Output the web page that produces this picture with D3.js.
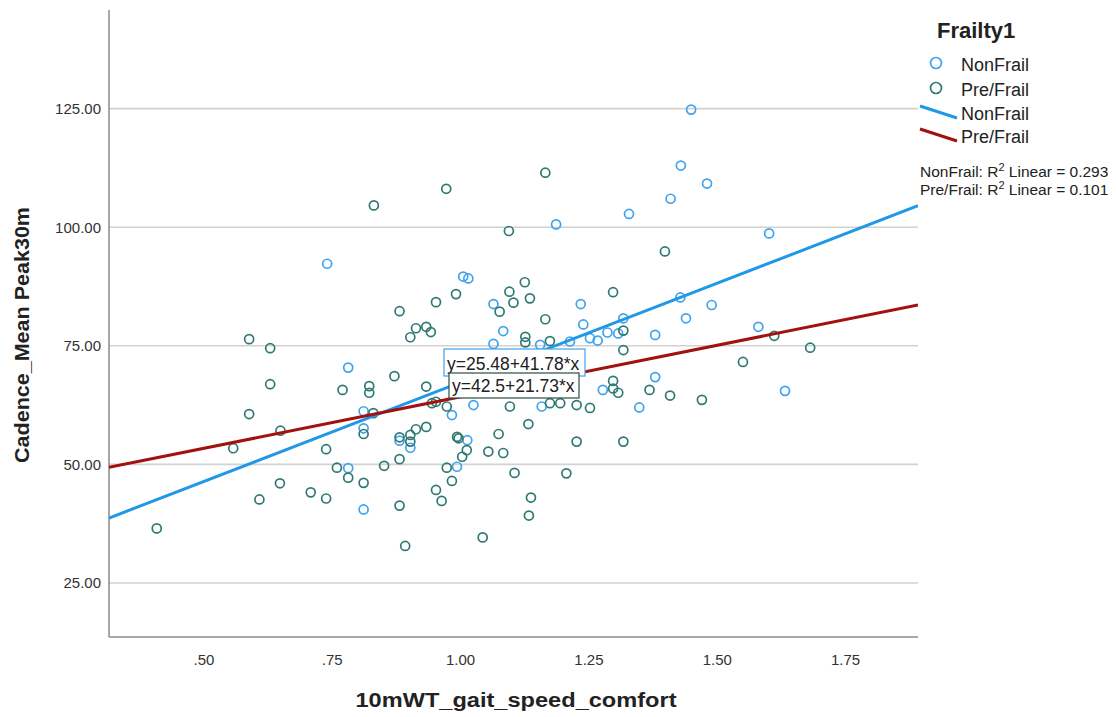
<!DOCTYPE html>
<html>
<head>
<meta charset="utf-8">
<script src="https://cdn.jsdelivr.net/npm/d3@7"></script>
<style>
  body { margin: 0; background: #fff; }
  svg text { font-family: Arial, "Liberation Sans", sans-serif; }
</style>
</head>
<body>
<svg id="chart" width="1116" height="717"></svg>
<script>
// Group names and fitted linear models
const groups = ["NonFrail", "Pre/Frail"];
const fitIntercept = [25.48, 42.5];
const fitSlope = [41.78, 21.73];
const fitR2 = ["0.293", "0.101"];

// NonFrail observations: gait speed (m/s) and peak cadence
const nonFrailSpeed = [1.45, 1.43, 1.481, 1.41, 1.329, 1.187, 1.602, 0.741, 1.006, 1.016,
  1.065, 1.235, 1.24, 1.084, 1.156, 1.065, 1.214, 1.429, 1.49, 1.44,
  1.318, 1.287, 1.308, 1.268, 1.253, 1.38, 1.581, 1.38, 1.278, 1.633,
  1.349, 0.782, 0.812, 0.812, 0.782, 0.812, 0.882, 0.903, 0.994, 1.014,
  0.984, 1.026, 1.159];
const nonFrailCadence = [124.8, 113.0, 109.2, 106.0, 102.8, 100.6, 98.7, 92.3, 89.6, 89.2,
  83.8, 83.8, 79.5, 78.1, 75.2, 75.4, 75.9, 85.2, 83.6, 80.8,
  80.8, 77.8, 77.6, 76.1, 76.6, 77.3, 79.0, 68.4, 65.7, 65.5,
  62.0, 70.4, 61.2, 57.6, 49.2, 40.5, 55.0, 53.5, 49.5, 55.1,
  60.4, 62.5, 62.2];

// Pre/Frail observations: gait speed (m/s) and peak cadence
const preFrailSpeed = [1.166, 0.973, 0.832, 1.095, 1.399, 1.126, 0.992, 0.953, 0.882, 0.914,
  0.934, 0.943, 0.903, 1.096, 1.136, 1.104, 1.077, 1.166, 1.127, 1.127,
  1.175, 1.298, 1.318, 1.612, 1.682, 1.318, 1.551, 1.298, 1.298, 1.308,
  1.369, 1.409, 1.471, 1.253, 0.589, 0.63, 0.63, 0.589, 0.558, 0.65,
  0.739, 0.649, 0.609, 0.709, 0.739, 0.409, 0.771, 0.823, 0.823, 0.872,
  0.934, 0.831, 0.945, 0.953, 0.974, 0.812, 0.76, 0.782, 0.812, 0.852,
  0.882, 0.882, 0.893, 0.882, 0.903, 0.903, 0.914, 0.934, 0.953, 0.964,
  0.984, 0.974, 1.004, 1.013, 0.994, 0.997, 1.055, 1.075, 1.084, 1.106,
  1.044, 1.133, 1.138, 1.134, 1.227, 1.318, 1.207, 1.097, 1.175, 1.195,
  1.227];
const preFrailCadence = [111.5, 108.1, 104.6, 99.2, 94.9, 88.4, 85.9, 84.2, 82.3, 78.7,
  79.0, 77.9, 76.8, 86.4, 85.0, 84.1, 82.2, 80.6, 76.9, 75.7,
  76.0, 86.3, 78.2, 77.1, 74.6, 74.1, 71.6, 67.6, 66.0, 65.1,
  65.7, 64.5, 63.6, 61.9, 76.4, 74.5, 66.9, 60.6, 53.4, 57.1,
  53.2, 46.0, 42.6, 44.1, 42.8, 36.5, 65.7, 66.5, 65.1, 68.6,
  66.4, 60.8, 62.9, 63.2, 62.2, 56.4, 49.3, 47.2, 46.1, 49.7,
  51.1, 41.3, 32.8, 55.7, 56.2, 54.8, 57.4, 57.9, 44.6, 42.3,
  46.5, 49.3, 51.6, 53.0, 55.8, 55.5, 52.7, 56.4, 52.4, 48.2,
  34.6, 58.5, 43.0, 39.2, 54.8, 54.8, 48.1, 62.2, 62.9, 62.9,
  62.5];

// Axis ticks
const xTicks = [0.5, 0.75, 1.0, 1.25, 1.5, 1.75];
const yTicks = [25, 50, 75, 100, 125];

const pointColor = ["#3fa3ee", "#2e7a72"];
const lineColor = ["#1f98e8", "#a31010"];
const boxStroke = ["#3fa3ee", "#2b4d49"];

const svg = d3.select("#chart");
const plot = { left: 109, right: 918, top: 10, bottom: 637 };

const x = d3.scaleLinear().domain([0.316, 1.892]).range([plot.left, plot.right]);
const y = d3.scaleLinear().domain([13.6, 145.8]).range([plot.bottom, plot.top]);

svg.append("defs").append("clipPath").attr("id", "plotClip")
  .append("rect")
  .attr("x", plot.left).attr("y", plot.top)
  .attr("width", plot.right - plot.left).attr("height", plot.bottom - plot.top);

// Horizontal gridlines
svg.append("g").selectAll("line").data(yTicks).join("line")
  .attr("x1", plot.left).attr("x2", plot.right)
  .attr("y1", d => y(d)).attr("y2", d => y(d))
  .attr("stroke", "#d2d2d2").attr("stroke-width", 1.6);

// Y axis (labels only, drawn with d3.axisLeft)
const yAxis = svg.append("g").attr("transform", `translate(${plot.left},0)`)
  .call(d3.axisLeft(y).tickValues(yTicks).tickFormat(d3.format(".2f")).tickSize(0).tickPadding(8));
yAxis.select(".domain").remove();
yAxis.selectAll("text").attr("font-size", 15).attr("fill", "#333")
  .style("font-family", "Arial, 'Liberation Sans', sans-serif");

// X axis labels without leading zero
const fmtX = v => d3.format(".2f")(v).replace(/^0\./, ".");
const xAxis = svg.append("g").attr("transform", `translate(0,${plot.bottom})`)
  .call(d3.axisBottom(x).tickValues(xTicks).tickFormat(fmtX).tickSize(0).tickPadding(17));
xAxis.select(".domain").remove();
xAxis.selectAll("text").attr("font-size", 15).attr("fill", "#333")
  .style("font-family", "Arial, 'Liberation Sans', sans-serif");

// Axis lines
svg.append("line").attr("x1", plot.left).attr("x2", plot.left)
  .attr("y1", plot.top).attr("y2", plot.bottom)
  .attr("stroke", "#8a8a8a").attr("stroke-width", 1.5);
svg.append("line").attr("x1", plot.left).attr("x2", plot.right)
  .attr("y1", plot.bottom).attr("y2", plot.bottom)
  .attr("stroke", "#8a8a8a").attr("stroke-width", 1.5);

// Axis titles
svg.append("text")
  .attr("transform", `translate(29,${(207 + 463) / 2}) rotate(-90)`)
  .attr("text-anchor", "middle")
  .attr("font-size", 20).attr("font-weight", "bold").attr("fill", "#222")
  .attr("textLength", 256).attr("lengthAdjust", "spacingAndGlyphs")
  .text("Cadence_Mean Peak30m");
svg.append("text")
  .attr("x", 516).attr("y", 707)
  .attr("text-anchor", "middle")
  .attr("font-size", 20).attr("font-weight", "bold").attr("fill", "#222")
  .attr("textLength", 321).attr("lengthAdjust", "spacingAndGlyphs")
  .text("10mWT_gait_speed_comfort");

// Scatter points
const seriesX = [nonFrailSpeed, preFrailSpeed];
const seriesY = [nonFrailCadence, preFrailCadence];
const pts = svg.append("g");
groups.forEach((g, i) => {
  const data = seriesX[i].map((v, k) => ({ sx: v, sy: seriesY[i][k] }));
  pts.append("g").selectAll("circle").data(data).join("circle")
    .attr("cx", d => x(d.sx)).attr("cy", d => y(d.sy)).attr("r", 4.5)
    .attr("fill", "none").attr("stroke", pointColor[i]).attr("stroke-width", 1.7);
});

// Fit lines across the full x range
const lines = svg.append("g").attr("clip-path", "url(#plotClip)");
const [x0, x1] = x.domain();
groups.forEach((g, i) => {
  lines.append("line")
    .attr("x1", x(x0)).attr("y1", y(fitIntercept[i] + fitSlope[i] * x0))
    .attr("x2", x(x1)).attr("y2", y(fitIntercept[i] + fitSlope[i] * x1))
    .attr("stroke", lineColor[i]).attr("stroke-width", 3);
});

// Equation labels
const eqText = groups.map((g, i) => `y=${fitIntercept[i]}+${fitSlope[i]}*x`);
const eqBoxes = [
  { left: 444, top: 349, w: 141, h: 27 },
  { left: 449, top: 373, w: 130, h: 25 }
];
eqBoxes.forEach((b, i) => {
  const grp = svg.append("g");
  grp.append("rect").attr("x", b.left).attr("y", b.top).attr("width", b.w).attr("height", b.h)
    .attr("fill", "#fff").attr("stroke", boxStroke[i]).attr("stroke-width", 1.2);
  grp.append("text").attr("x", b.left + 3).attr("y", b.top + b.h - 6)
    .attr("font-size", 17.5).attr("fill", "#222").text(eqText[i]);
});

// Legend
const lg = svg.append("g");
lg.append("text").attr("x", 937).attr("y", 38).attr("font-size", 22).attr("font-weight", "bold")
  .attr("fill", "#222").text("Frailty1");
groups.forEach((g, i) => {
  const cy = 63 + i * 25;
  lg.append("circle").attr("cx", 936).attr("cy", cy).attr("r", 5.5)
    .attr("fill", "none").attr("stroke", pointColor[i]).attr("stroke-width", 1.7);
  lg.append("text").attr("x", 961).attr("y", cy + 8).attr("font-size", 18).attr("fill", "#222").text(g);
});
groups.forEach((g, i) => {
  const yy = 111 + i * 23;
  lg.append("line").attr("x1", 920).attr("y1", yy - 5).attr("x2", 957).attr("y2", yy + 7)
    .attr("stroke", lineColor[i]).attr("stroke-width", 3);
  lg.append("text").attr("x", 961).attr("y", yy + 9).attr("font-size", 18).attr("fill", "#222").text(g);
});
groups.forEach((g, i) => {
  const t = lg.append("text").attr("x", 920).attr("y", 177 + i * 18).attr("font-size", 15.5).attr("fill", "#222");
  t.append("tspan").text(`${g}: R`);
  t.append("tspan").attr("dy", -6).attr("font-size", 11).text("2");
  t.append("tspan").attr("dy", 6).text(` Linear = ${fitR2[i]}`);
});
</script>
</body>
</html>
